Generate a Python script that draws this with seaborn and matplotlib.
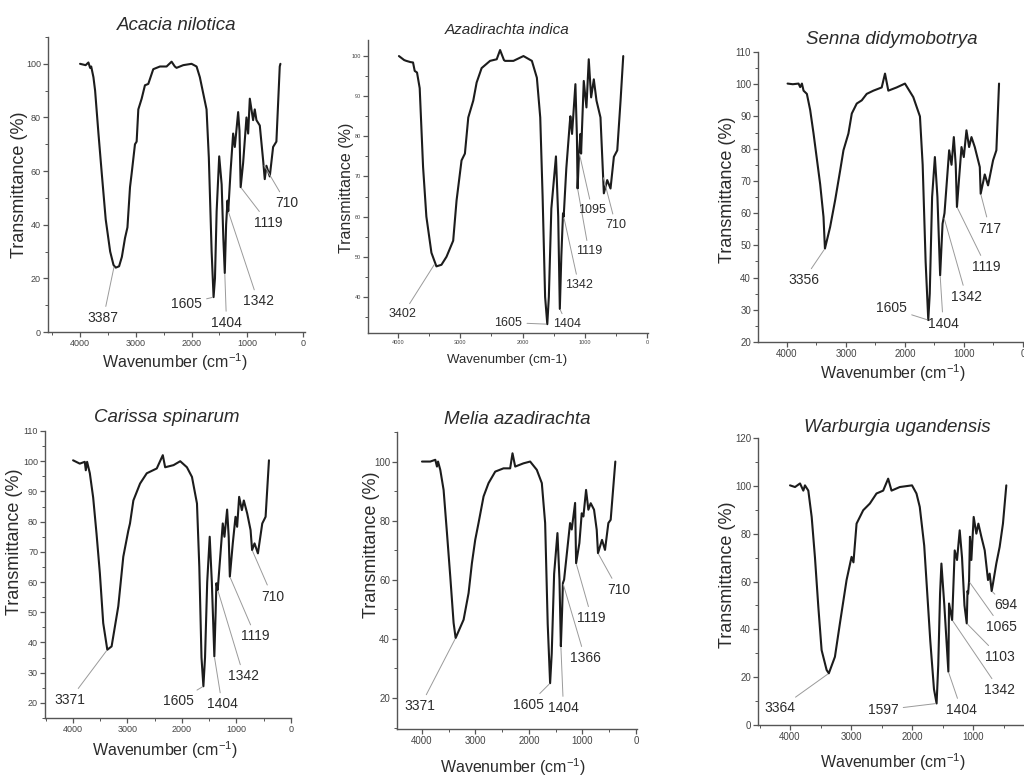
import numpy as np
import matplotlib
matplotlib.use("Agg")
import matplotlib.pyplot as plt
from matplotlib.ticker import MultipleLocator
import seaborn as sns

# ---------------- data ----------------
species = ["Acacia nilotica", "Azadirachta indica", "Senna didymobotrya",
           "Carissa spinarum", "Melia azadirachta", "Warburgia ugandensis"]

acacia_wn = [4000, 3900, 3850, 3820, 3800, 3780, 3760, 3730, 3670, 3610, 3540, 3460, 3400, 3360, 3300,
             3250, 3194, 3150, 3104, 3075, 3015, 2985, 2955, 2895, 2836, 2776, 2687, 2567, 2448, 2358,
             2300, 2269, 2149, 2000, 1910, 1851, 1791, 1731, 1690, 1640, 1605, 1580, 1550, 1504, 1460,
             1430, 1404, 1380, 1355, 1342, 1300, 1254, 1224, 1164, 1140, 1119, 1075, 1015, 985, 955,
             896, 866, 836, 776, 716, 687, 657, 597, 537, 478, 418, 406]
acacia_t = [100, 99.5, 100.5, 98.5, 99, 97, 95, 90, 74, 59, 42, 30, 25, 24, 24.5,
            28, 35, 39, 54, 59, 70, 71, 83, 87, 92, 92.5, 98, 99, 99, 100.8,
            99, 98.5, 99.5, 100, 99, 95, 89, 83, 65, 30, 13, 20, 45, 65.5, 55,
            35, 22, 40, 49, 45, 60, 74, 69, 82, 75, 54, 63, 80, 74, 87,
            79, 83, 79, 77, 64, 57, 62, 58, 69, 71, 99, 100]
acacia_peaks = [3387, 1605, 1404, 1342, 1119, 710]

azad_wn = [3984, 3900, 3866, 3800, 3758, 3731, 3694, 3651, 3597, 3544, 3463, 3383, 3302, 3221, 3114,
           3060, 2980, 2926, 2872, 2792, 2738, 2658, 2523, 2416, 2362, 2300, 2282, 2148, 1987, 1852,
           1772, 1718, 1680, 1640, 1605, 1580, 1540, 1466, 1430, 1404, 1380, 1353, 1342, 1300, 1246,
           1235, 1208, 1154, 1130, 1119, 1095, 1074, 1063, 1020, 977, 940, 902, 859, 816, 752,
           698, 644, 591, 537, 483, 430, 387]
azad_t = [100, 99, 98.8, 98.5, 98.4, 96.3, 95.9, 92, 72.4, 60, 51, 47.6, 48, 50, 54,
          64, 74, 75.7, 84.7, 88.9, 93.4, 97, 98.8, 99.2, 101.5, 99, 98.8, 98.8, 100, 98.8,
          94.6, 84.7, 65, 40, 33.2, 40, 62, 75, 60, 37, 50, 60.8, 60, 72, 83,
          85, 80.6, 93, 80, 67, 76, 80.6, 75.7, 93.8, 87.2, 99.2, 89.7, 94.2, 88.9, 84.7,
          65.8, 69.1, 67, 74.9, 76.5, 88.9, 100]
azad_peaks = [3402, 1605, 1404, 1342, 1119, 1095, 710]

senna_wn = [3989, 3900, 3803, 3775, 3746, 3718, 3662, 3606, 3549, 3437, 3380, 3356, 3268, 3183, 3100,
            3042, 2958, 2901, 2817, 2732, 2648, 2535, 2394, 2338, 2282, 2141, 2000, 1859, 1746, 1700,
            1650, 1605, 1580, 1540, 1493, 1450, 1404, 1363, 1342, 1330, 1251, 1211, 1172, 1140, 1119,
            1082, 1042, 1003, 958, 913, 873, 817, 732, 717, 648, 592, 507, 451, 406]
senna_t = [100.2, 100, 100.2, 99.1, 100.2, 98, 97, 92, 84.7, 69, 58.8, 49, 55.7, 64, 73,
           79.5, 84.7, 90.9, 94, 95, 97, 98, 99, 103.3, 98, 99, 100.2, 96, 90, 75,
           45, 26.8, 35, 65, 77.4, 65, 40.7, 56.7, 58.8, 60, 79.5, 75, 83.6, 75, 61.9,
           71, 80.5, 77.4, 85.7, 80.5, 83.6, 80.5, 74.3, 66, 72, 68.6, 76.4, 79.5, 100.2]
senna_peaks = [3356, 1605, 1404, 1342, 1119, 717]

carissa_wn = [4000, 3877, 3785, 3766, 3742, 3692, 3631, 3569, 3508, 3446, 3371, 3292, 3169, 3077, 2985,
              2954, 2892, 2769, 2646, 2462, 2351, 2308, 2154, 2031, 1908, 1815, 1723, 1680, 1640, 1605,
              1575, 1535, 1489, 1450, 1404, 1380, 1366, 1342, 1249, 1218, 1169, 1140, 1119, 1065, 1015,
              985, 948, 898, 862, 800, 738, 710, 665, 603, 523, 462, 400]
carissa_t = [100.3, 99.2, 99.8, 97, 99.8, 96, 88, 76, 63, 46.4, 37.6, 38.7, 52, 68.4, 77,
             79.4, 87, 92.6, 96, 97.6, 102, 98, 98.7, 100, 98, 94.8, 86, 65, 35, 25.5,
             35, 60, 75, 60, 35.4, 50, 59.6, 57.4, 79.4, 75, 84, 75, 61.8, 72.8, 81.6,
             78.3, 88.2, 83.8, 87, 82.7, 77.2, 70.6, 72.8, 69.5, 79.4, 81.6, 100.3]
carissa_peaks = [3371, 1605, 1404, 1342, 1119, 710]

melia_wn = [4000, 3845, 3751, 3720, 3700, 3658, 3596, 3533, 3471, 3409, 3371, 3222, 3129, 3067, 3005,
            2943, 2849, 2756, 2631, 2476, 2352, 2308, 2258, 2103, 1978, 1854, 1760, 1698, 1650, 1605,
            1575, 1530, 1468, 1430, 1404, 1380, 1366, 1344, 1232, 1201, 1138, 1119, 1058, 1014, 983,
            933, 890, 846, 784, 734, 710, 635, 579, 516, 473, 386]
melia_t = [100, 100, 100.6, 98.3, 100, 97.2, 90.4, 75.8, 61, 45.4, 40.3, 46.5, 55.5, 65.6, 73.5,
           79.2, 88.2, 92.7, 96.6, 97.7, 97.7, 102.8, 98.3, 99.4, 100, 97.2, 92.7, 79.2, 45, 25,
           35, 62, 75.8, 60, 37.5, 50, 58.9, 60, 79.2, 77, 86, 65.6, 72.4, 82.5, 81.4,
           90.4, 83.7, 85.9, 83.7, 76.9, 69, 73.5, 70.1, 79.2, 80.3, 100]
melia_peaks = [3371, 1605, 1404, 1366, 1119, 710]

warb_wn = [4000, 3918, 3836, 3782, 3755, 3700, 3645, 3591, 3536, 3482, 3400, 3364, 3264, 3182, 3073,
           2991, 2960, 2909, 2800, 2691, 2582, 2473, 2391, 2336, 2200, 2000, 1927, 1873, 1800, 1700,
           1640, 1597, 1570, 1540, 1518, 1470, 1404, 1393, 1342, 1300, 1262, 1218, 1180, 1140, 1103,
           1090, 1080, 1065, 1050, 1027, 989, 945, 912, 863, 808, 754, 727, 694, 672, 618,
           563, 509, 454]
warb_t = [100.2, 99.5, 101, 98, 100.2, 98, 87, 70, 49.4, 31.3, 23, 21.6, 28.5, 42.5, 60.6,
          70.3, 68, 84.2, 89.8, 92.6, 96.8, 98, 103, 98, 99.5, 100.2, 96.8, 91.2, 75, 35,
          15, 9, 25, 55, 67.5, 50, 22.3, 50.8, 43.9, 73, 69, 81.4, 70, 50, 42.5,
          56, 55, 60, 78.7, 69, 87, 80, 84.2, 78.7, 73, 60.6, 63.3, 56, 59.2, 67.5,
          74.5, 84.2, 100.2]
warb_peaks = [3364, 1597, 1404, 1342, 1103, 1065, 694]

xtick_values = [4000, 3000, 2000, 1000, 0]

# ---------------- style ----------------
sns.set_theme(style="ticks")
plt.rcParams["font.family"] = ["Liberation Sans", "DejaVu Sans"]
plt.rcParams["mathtext.fontset"] = "custom"
plt.rcParams["mathtext.rm"] = "Liberation Sans"
plt.rcParams["mathtext.it"] = "Liberation Sans:italic"

TXT = "#2b2b2b"
LINE = "#1c1c1c"
AX = "#555555"

W, H = 1024, 780
fig = plt.figure(figsize=(W / 100, H / 100), dpi=100)
fig.patch.set_facecolor("white")

panels = [
    dict(wn=acacia_wn, t=acacia_t, peaks=acacia_peaks,
         box=(48, 37, 305, 332), xlim=(4575, -35), ylim=(0, 110), ymaj=20, ymin=10, ymax_tick=100,
         tfs=6.5, title_xy=(177, 25), title_fs=13.5, ylab_xy=(20, 185), ylab_fs=13,
         xlab_xy=(175, 362), xlab_fs=11.5, xlab="Wavenumber (cm$^{-1}$)", pfs=10,
         txt=[(3582, 5.2), (2090, 10.6), (1373, 3.4), (806, 11.4), (627, 40.7), (298, 48)]),
    dict(wn=azad_wn, t=azad_t, peaks=azad_peaks,
         box=(368, 40, 648, 333), xlim=(4480, -10), ylim=(31, 104), ymaj=10, ymin=5, ymax_tick=100,
         tfs=4, title_xy=(507, 30), title_fs=11, ylab_xy=(347, 188), ylab_fs=11.5,
         xlab_xy=(507, 360), xlab_fs=9.5, xlab="Wavenumber (cm-1)", pfs=9,
         txt=[(3919, 35.7), (2228, 33.6), (1289, 33.2), (1101, 43), (940, 51.4), (886, 61.7), (510, 58)]),
    dict(wn=senna_wn, t=senna_t, peaks=senna_peaks,
         box=(758, 52, 1024, 342), xlim=(4490, -17), ylim=(20, 110), ymaj=10, ymin=5, ymax_tick=110,
         tfs=7, title_xy=(892, 40), title_fs=13.5, ylab_xy=(727, 190), ylab_fs=13,
         xlab_xy=(893, 373), xlab_fs=11.5, xlab="Wavenumber (cm$^{-1}$)", pfs=10,
         txt=[(3718, 39.2), (2225, 30.4), (1352, 25.7), (958, 34), (620, 43.3), (563, 55.2)]),
    dict(wn=carissa_wn, t=carissa_t, peaks=carissa_peaks,
         box=(45, 431, 291, 718), xlim=(4516, -5), ylim=(15, 110), ymaj=10, ymin=5, ymax_tick=110,
         tfs=6.5, title_xy=(167, 418), title_fs=13.5, ylab_xy=(15, 542), ylab_fs=13,
         xlab_xy=(165, 750), xlab_fs=11.5, xlab="Wavenumber (cm$^{-1}$)", pfs=10,
         txt=[(4062, 21), (2062, 20.6), (1262, 19.5), (862, 28.8), (646, 42), (338, 55.2)]),
    dict(wn=melia_wn, t=melia_t, peaks=melia_peaks,
         box=(397, 432, 637, 729), xlim=(4467, -19), ylim=(9.5, 110), ymaj=20, ymin=10, ymax_tick=100,
         tfs=7, title_xy=(517, 420), title_fs=13.5, ylab_xy=(372, 545), ylab_fs=13,
         xlab_xy=(513, 767), xlab_fs=11.5, xlab="Wavenumber (cm$^{-1}$)", pfs=10,
         txt=[(4031, 17.2), (2009, 17.7), (1356, 16.6), (952, 33.5), (827, 47), (330, 56.6)]),
    dict(wn=warb_wn, t=warb_t, peaks=warb_peaks,
         box=(758, 438, 1024, 725), xlim=(4525, 164), ylim=(0, 120), ymaj=20, ymin=10, ymax_tick=120,
         tfs=7, title_xy=(897, 427), title_fs=13.5, ylab_xy=(727, 575), ylab_fs=13,
         xlab_xy=(893, 762), xlab_fs=11.5, xlab="Wavenumber (cm$^{-1}$)", pfs=10,
         txt=[(4164, 7), (2472, 6.3), (1190, 6.3), (563, 14.6), (563, 28.5), (536, 41), (454, 50)]),
]


def fx(px):
    return px / W


def fy(py):
    return 1 - py / H


for name, p in zip(species, panels):
    x0, y0, x1, y1 = p["box"]
    ax = fig.add_axes([fx(x0), fy(y1), (x1 - x0) / W, (y1 - y0) / H])
    ax.set_facecolor("none")
    sns.lineplot(x=p["wn"], y=p["t"], ax=ax, color=LINE, lw=1.5, sort=False, estimator=None)
    lo, hi = min(p["xlim"]), max(p["xlim"])
    xt = [v for v in xtick_values if lo <= v <= hi]
    ax.set_xticks(xt)
    ax.set_xticklabels([str(v) for v in xt])
    ax.xaxis.set_minor_locator(MultipleLocator(500))
    ax.set_xlim(*p["xlim"])
    yt = np.arange(np.ceil(p["ylim"][0] / p["ymaj"]) * p["ymaj"], p["ymax_tick"] + 0.1, p["ymaj"])
    ax.set_yticks(yt)
    ax.set_yticklabels([f"{v:g}" for v in yt])
    ax.yaxis.set_minor_locator(MultipleLocator(p["ymin"]))
    ax.set_ylim(*p["ylim"])
    for s in ["top", "right"]:
        ax.spines[s].set_visible(False)
    for s in ["left", "bottom"]:
        ax.spines[s].set_color(AX)
        ax.spines[s].set_linewidth(1.0)
    ax.tick_params(which="major", direction="out", length=3.5, width=0.9, color=AX,
                   labelsize=p["tfs"], labelcolor="#444444", pad=1.5)
    ax.tick_params(which="minor", direction="out", length=2, width=0.7, color=AX)
    ax.set_xlabel("")
    ax.set_ylabel("")

    # peak annotations
    wn_arr = np.array(p["wn"])[::-1]
    t_arr = np.array(p["t"])[::-1]
    for pk, (tx, ty) in zip(p["peaks"], p["txt"]):
        py = np.interp(pk, wn_arr, t_arr)
        ax.annotate(str(pk), xy=(pk, py), xytext=(tx, ty), ha="center", va="center",
                    fontsize=p["pfs"], color=TXT, annotation_clip=False,
                    arrowprops=dict(arrowstyle="-", color="#9a9a9a", lw=0.7,
                                    shrinkA=1, shrinkB=1))

    fig.text(fx(p["title_xy"][0]), fy(p["title_xy"][1]), name, ha="center", va="center",
             fontsize=p["title_fs"], style="italic", color=TXT)
    fig.text(fx(p["ylab_xy"][0]), fy(p["ylab_xy"][1]), "Transmittance (%)", ha="center",
             va="center", rotation=90, fontsize=p["ylab_fs"], color=TXT)
    fig.text(fx(p["xlab_xy"][0]), fy(p["xlab_xy"][1]), p["xlab"], ha="center", va="center",
             fontsize=p["xlab_fs"], color=TXT)

fig.savefig("out.png", dpi=100, facecolor="white")
